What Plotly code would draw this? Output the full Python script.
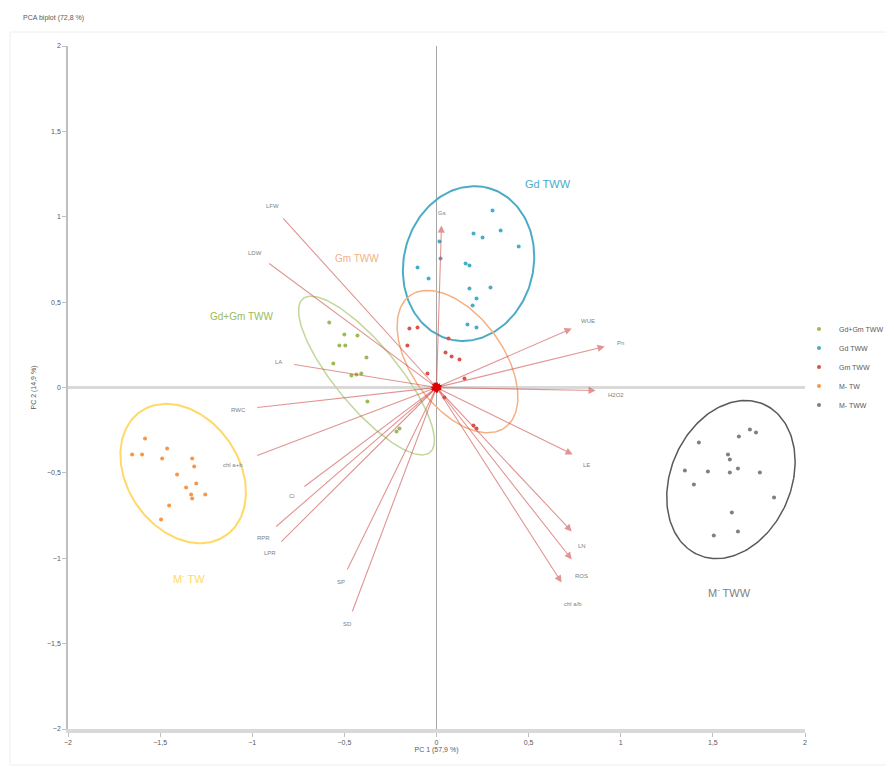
import numpy as np
import plotly.graph_objects as go

# ---------------- data ----------------
groups = ["Gd+Gm TWW", "Gd TWW", "Gm TWW", "M- TW", "M- TWW"]

gdgm_x = [-0.582, -0.500, -0.429, -0.527, -0.495, -0.380, -0.560, -0.462, -0.435, -0.408, -0.375, -0.217, -0.201]
gdgm_y = [0.381, 0.310, 0.305, 0.246, 0.246, 0.176, 0.141, 0.070, 0.076, 0.082, -0.082, -0.258, -0.240]

gd_x = [0.304, 0.201, 0.250, 0.348, 0.446, 0.016, 0.022, -0.103, -0.043, 0.179, 0.158, 0.179, 0.293, 0.217, 0.196, 0.168, 0.217]
gd_y = [1.037, 0.902, 0.878, 0.919, 0.826, 0.855, 0.755, 0.703, 0.638, 0.714, 0.726, 0.580, 0.586, 0.521, 0.480, 0.369, 0.351]

gm_x = [-0.147, -0.103, -0.158, 0.065, 0.049, 0.082, 0.125, -0.049, 0.152, 0.201, 0.217, 0.043]
gm_y = [0.346, 0.351, 0.246, 0.287, 0.205, 0.182, 0.164, 0.082, 0.053, -0.223, -0.240, -0.059]

mtw_x = [-1.582, -1.652, -1.598, -1.462, -1.489, -1.326, -1.315, -1.408, -1.304, -1.359, -1.332, -1.326, -1.255, -1.451, -1.495]
mtw_y = [-0.299, -0.392, -0.392, -0.357, -0.416, -0.416, -0.463, -0.510, -0.562, -0.586, -0.627, -0.650, -0.627, -0.691, -0.773]

mtww_x = [1.424, 1.641, 1.701, 1.734, 1.582, 1.592, 1.348, 1.473, 1.592, 1.636, 1.755, 1.397, 1.832, 1.603, 1.636, 1.505]
mtww_y = [-0.322, -0.287, -0.246, -0.264, -0.392, -0.422, -0.486, -0.492, -0.498, -0.474, -0.498, -0.568, -0.644, -0.732, -0.843, -0.867]

# confidence ellipses: centre x, centre y, semi-major, semi-minor, angle (deg)
ell_cx = [-0.380, 0.174, 0.114, -1.375, 1.598]
ell_cy = [0.070, 0.726, 0.152, -0.504, -0.539]
ell_a = [0.567, 0.456, 0.465, 0.432, 0.476]
ell_b = [0.175, 0.353, 0.255, 0.310, 0.330]
ell_ang = [-53, 80, -58, -62, 71]

# variable loadings
var_names = ["LFW", "LDW", "LA", "RWC", "chl a+b", "Ci", "RPR", "LPR", "SP", "SD",
             "WUE", "Pn", "H2O2", "LE", "LN", "ROS", "chl a/b", "Gs"]
var_x = [-0.832, -0.908, -0.772, -0.973, -0.973, -0.717, -0.870, -0.842, -0.484, -0.457,
         0.734, 0.913, 0.864, 0.739, 0.734, 0.734, 0.679, 0.027]
var_y = [0.990, 0.726, 0.135, -0.117, -0.398, -0.580, -0.814, -0.902, -1.066, -1.312,
         0.346, 0.240, -0.018, -0.392, -0.843, -1.007, -1.142, 0.949]
# short vectors clustered at the origin
short_x = [-0.030, 0.020, -0.025, 0.030, -0.010]
short_y = [-0.015, 0.025, 0.020, -0.012, -0.030]

group_label_x = [-1.060, 0.603, -0.429, -1.342, 1.592]
group_label_y = [0.416, 1.189, 0.755, -1.113, -1.195]
group_label_txt = ["Gd+Gm TWW", "Gd TWW", "Gm TWW", "M<sup>-</sup> TW", "M<sup>-</sup> TWW"]

tick_vals = [-2, -1.5, -1, -0.5, 0, 0.5, 1, 1.5, 2]

# ---------------- styles ----------------
marker_colors = ["#9BBB59", "#4BACC6", "#D9534F", "#F79646", "#7F7F7F"]
ellipse_colors = ["#C3D69B", "#4BACC6", "#F4B183", "#FFD966", "#595959"]
label_colors = ["#9BBB59", "#4BACC6", "#F4B183", "#FFD966", "#808080"]
ellipse_widths = [1.5, 2, 1.5, 2, 1.5]
FONT = "Liberation Sans"
GREY = "#595959"

# figure geometry (page body has an 8px margin)
W, H = 886, 759
ML, MR, MT, MB = 60, 89, 38, 38
PW, PH = W - ML - MR, H - MT - MB

fig = go.Figure()

pts = [(gdgm_x, gdgm_y), (gd_x, gd_y), (gm_x, gm_y), (mtw_x, mtw_y), (mtww_x, mtww_y)]

# ellipses
t = np.linspace(0, 2 * np.pi, 200)
for i in range(5):
    th = np.radians(ell_ang[i])
    ex = ell_cx[i] + ell_a[i] * np.cos(th) * np.cos(t) - ell_b[i] * np.sin(th) * np.sin(t)
    ey = ell_cy[i] + ell_a[i] * np.sin(th) * np.cos(t) + ell_b[i] * np.cos(th) * np.sin(t)
    fig.add_trace(go.Scatter(x=ex, y=ey, mode="lines", showlegend=False, hoverinfo="skip",
                             line=dict(color=ellipse_colors[i], width=ellipse_widths[i])))

# observations
for i in range(5):
    fig.add_trace(go.Scatter(x=pts[i][0], y=pts[i][1], mode="markers", name=groups[i],
                             marker=dict(color=marker_colors[i], size=4)))

annotations = []
PX_X, PX_Y = PW / 4.0, PH / 4.0
for n, x, y in zip(var_names, var_x, var_y):
    right = x > 0.2 or (abs(x) < 0.1 and y > 0)
    annotations.append(dict(x=x, y=y, ax=0, ay=0, xref="x", yref="y", axref="x", ayref="y",
                            showarrow=True, text="", arrowcolor="rgba(205,80,76,0.6)",
                            arrowwidth=1.1, arrowhead=2 if right else 0, arrowsize=1.3))
    ux, uy = x * PX_X, y * PX_Y
    L = np.hypot(ux, uy)
    ux, uy = ux / L, uy / L
    off = 12 + 2.2 * len(n) * abs(ux)
    annotations.append(dict(x=x, y=y, xref="x", yref="y", showarrow=False, text=n,
                            xshift=ux * off, yshift=uy * off + (-4 if right and uy < 0 else 0),
                            font=dict(size=6, color="#808080", family=FONT)))
for x, y in zip(short_x, short_y):
    annotations.append(dict(x=x, y=y, ax=0, ay=0, xref="x", yref="y", axref="x", ayref="y",
                            showarrow=True, text="", arrowcolor="#E00000",
                            arrowwidth=1.3, arrowhead=2, arrowsize=1.4))

for i in range(5):
    annotations.append(dict(x=group_label_x[i], y=group_label_y[i], xref="x", yref="y",
                            showarrow=False, text=group_label_txt[i],
                            font=dict(size=11 if i in (1, 3, 4) else 10, color=label_colors[i], family=FONT)))

fig.update_layout(
    width=W, height=H,
    margin=dict(l=ML, r=MR, t=MT, b=MB, autoexpand=False),
    paper_bgcolor="white", plot_bgcolor="white",
    separators=", ",
    font=dict(family=FONT, size=7, color=GREY),
    title=dict(text="PCA biplot (72,8 %)", x=15 / W, xanchor="left", y=1 - 10 / H, yanchor="middle",
               font=dict(size=7, color=GREY, family=FONT)),
    xaxis=dict(range=[-2, 2], tickvals=tick_vals, showgrid=False, zeroline=True,
               zerolinecolor="#a6a6a6", zerolinewidth=1, automargin=False,
               showline=True, linecolor="#d9d9d9", linewidth=4, ticks="outside", ticklen=4,
               tickcolor="#bfbfbf", tickfont=dict(size=7, color=GREY),
               title=dict(text="PC 1 (57,9 %)", font=dict(size=7, color=GREY), standoff=2)),
    yaxis=dict(range=[-2, 2], tickvals=tick_vals, showgrid=False, zeroline=True,
               zerolinecolor="#d9d9d9", zerolinewidth=3, automargin=False,
               showline=True, linecolor="#bfbfbf", linewidth=1.5, ticks="outside", ticklen=4,
               tickcolor="#bfbfbf", tickfont=dict(size=7, color=GREY),
               title=dict(text="PC 2 (14,9 %)", font=dict(size=7, color=GREY), standoff=10)),
    legend=dict(x=(791 - ML) / PW, y=(MT + PH - 359) / PH, xanchor="left", yanchor="middle",
                font=dict(size=7, color=GREY), tracegroupgap=0, itemwidth=30,
                bgcolor="rgba(0,0,0,0)"),
    annotations=annotations,
    shapes=[dict(type="rect", xref="paper", yref="paper",
                 x0=(2 - ML) / PW, x1=(882 - ML) / PW,
                 y0=(MT + PH - 757) / PH, y1=(MT + PH - 24) / PH,
                 line=dict(color="#eeeeee", width=1), layer="below")],
)

fig.write_html("out.html")
